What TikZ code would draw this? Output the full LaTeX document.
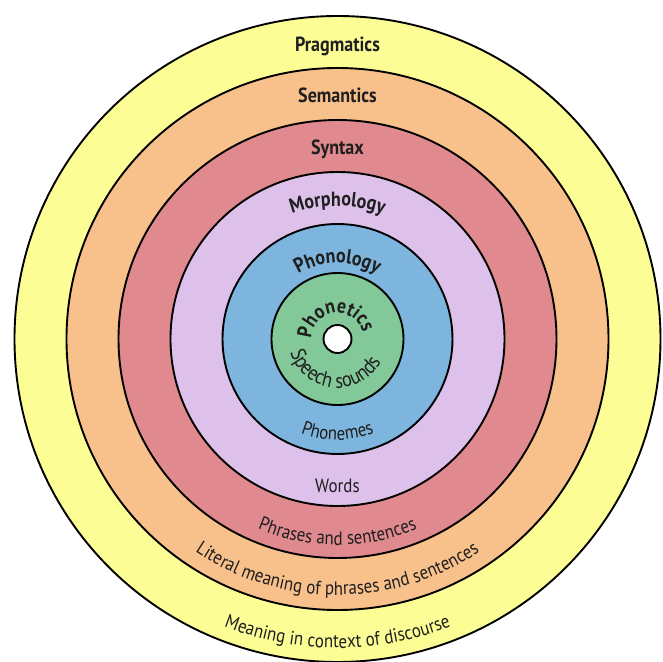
\documentclass[tikz,border=0pt]{standalone}
\usepackage{fontspec}
\setmainfont{PT Sans}[FakeStretch=0.88]
\usetikzlibrary{decorations.text}
\definecolor{pragyellow}{RGB}{253,253,150}
\definecolor{semorange}{RGB}{248,192,138}
\definecolor{synred}{RGB}{224,138,143}
\definecolor{morphlilac}{RGB}{221,193,234}
\definecolor{phonblue}{RGB}{125,181,222}
\definecolor{phongreen}{RGB}{130,200,152}
\newcommand{\headfont}{\fontsize{20.5}{24}\selectfont\bfseries}
\newcommand{\ringfont}{\fontsize{19.3}{23}\selectfont}
\newcommand{\soundfont}{\fontsize{21}{24}\selectfont}

\begin{document}
\begin{tikzpicture}[x=1pt,y=1pt]
		\tikzstyle{ring}=[draw=black,line width=1.9pt]
		\tikzstyle{every node}=[inner sep=0pt,text=black!88]
		\tikzstyle{arctext}=[decorate,decoration={text along path,text align=center,text color=black!88}]
		\useasboundingbox (-337.5,-323) rectangle (324.5,339);
		\fill[white] (-337.5,-323) rectangle (324.5,339);

		% the levels, outside in
		\draw[ring,fill=pragyellow] (0,0) circle (323);
		\draw[ring,fill=semorange] (0,0) circle (271);
		\draw[ring,fill=synred] (0,0) circle (219);
		\draw[ring,fill=morphlilac] (0,0) circle (167);
		\draw[ring,fill=phonblue] (0,0) circle (115);
		\draw[ring,fill=phongreen] (0,0) circle (66);
		\draw[ring,fill=white] (0,0) circle (14);

		% names of the levels
		\node (pragmatics) [anchor=base,font=\headfont] at (0,287) {Pragmatics};
		\node (semantics) [anchor=base,font=\headfont] at (0,236) {Semantics};
		\node (syntax) [anchor=base,font=\headfont] at (0,184) {Syntax};
		\path[arctext,decoration={text={|\headfont|Morphology}}]
			(180:133) arc[start angle=180,end angle=0,radius=133];
		\path[arctext,decoration={text={|\headfont|Phonology}}]
			(180:76) arc[start angle=180,end angle=0,radius=76];
		\path[arctext,decoration={text={|\headfont|Phonetics}}]
			(187:26) arc[start angle=187,end angle=7,radius=26];

		% units of each level
		\path[arctext,decoration={text={|\soundfont|Speech sounds}}]
			(174:49) arc[start angle=174,end angle=354,radius=49];
		\path[arctext,decoration={text={|\ringfont|Phonemes}}]
			(180:101) arc[start angle=180,end angle=360,radius=101];
		\node (words) [anchor=base,font=\ringfont] at (0,-153) {Words};
		\path[arctext,decoration={text={|\ringfont|Phrases and sentences}}]
			(180:206) arc[start angle=180,end angle=360,radius=206];
		\path[arctext,decoration={text={|\ringfont|Literal meaning of phrases and sentences}}]
			(180:256) arc[start angle=180,end angle=360,radius=256];
		\path[arctext,decoration={text={|\ringfont|Meaning in context of discourse}}]
			(180:309) arc[start angle=180,end angle=360,radius=309];
\end{tikzpicture}
\end{document}
